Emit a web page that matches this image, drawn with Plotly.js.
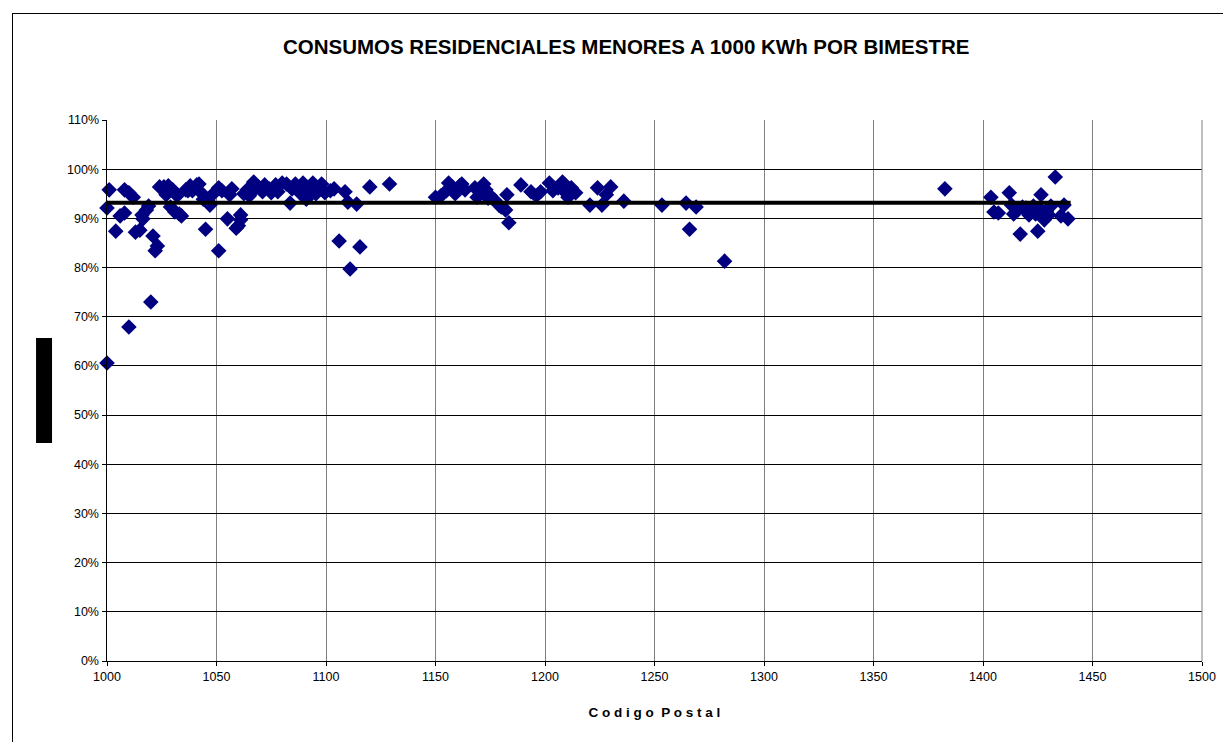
<!DOCTYPE html>
<html>
<head>
<meta charset="utf-8">
<script src="https://cdn.plot.ly/plotly-3.0.1.min.js"></script>
<style>
html,body{margin:0;padding:0;background:#fff;}
#frame{position:absolute;left:12px;top:13px;width:1400px;height:900px;border-left:1.5px solid #000;border-top:1.5px solid #000;}
#chart{position:absolute;left:0;top:0;width:1223px;height:742px;}
</style>
</head>
<body>
<div id="frame"></div>
<div id="chart"></div>
<script>
// Código postal (x) y porcentaje de consumos < 1000 KWh (y)
const codigoPostal = [
 1000,1001,1000,1004,1006,1008,1008,1010,1010,1012,1013,1015,1016,1016.4,1018,1019,1020,1021,1022,1023,
 1024,1026,1027,1028,1029,1030,1031,1032,1033,1034,1036,1037,1038,1039,1041,1042,1043,1044,1045,1046,
 1047,1049,1051,1051,1052.5,1055,1056,1057,1059,1060,1061,1061,1062.5,1064,1065,1067,1068,1069,1071,1072,
 1074,1075,1077,1078,1080,1082,1083.6,1084.5,1086,1088,1089.5,1091,1093,1094,1095.4,1097,1098,1099.5,1102,1103.7,
 1106,1108.7,1110,1111,1114,1115.5,1120,1129,
 1150,1152.5,1155,1156,1157.5,1159,1161,1162,1163.5,1168,1169,1171,1172,1173,1174,1175,1177,1179,1180,1182,
 1183.5,1182.6,1189,1193.6,1196,1198,1202,1203.6,1206,1208,1209,1210.5,1212,1214,1220.5,1224,1226,1228,1230,1236,
 1253.4,1264.4,1266,1269,1282,1382.6,
 1403.6,1405,1407,1412,1413,1414,1416,1417,1418,1419.6,1421,1423,1424,1425,1426,1426.5,1428,1429,1430,1431,
 1433,1435.6,1437,1438.8
];
const porcentaje = [
 0.921,0.958,0.606,0.874,0.905,0.958,0.911,0.952,0.679,0.943,0.872,0.876,0.907,0.899,0.917,0.925,0.730,0.864,0.834,0.844,
 0.964,0.964,0.948,0.966,0.923,0.958,0.913,0.946,0.909,0.905,0.958,0.956,0.966,0.956,0.968,0.970,0.952,0.939,0.878,0.937,
 0.927,0.952,0.962,0.834,0.956,0.899,0.948,0.960,0.880,0.885,0.907,0.897,0.950,0.958,0.946,0.974,0.962,0.964,0.954,0.968,
 0.960,0.952,0.968,0.954,0.972,0.970,0.931,0.960,0.970,0.952,0.972,0.939,0.958,0.972,0.950,0.960,0.970,0.952,0.956,0.960,
 0.854,0.954,0.933,0.797,0.929,0.842,0.964,0.970,
 0.943,0.946,0.956,0.972,0.964,0.950,0.966,0.970,0.958,0.962,0.943,0.956,0.970,0.958,0.941,0.946,0.937,0.927,0.923,0.917,
 0.891,0.948,0.968,0.954,0.946,0.954,0.972,0.956,0.962,0.974,0.954,0.943,0.962,0.952,0.927,0.962,0.927,0.948,0.964,0.935,
 0.927,0.931,0.878,0.923,0.813,0.960,
 0.943,0.913,0.911,0.952,0.927,0.909,0.917,0.868,0.923,0.921,0.907,0.925,0.909,0.874,0.919,0.948,0.897,0.915,0.907,0.925,
 0.984,0.905,0.927,0.899
];
// Línea del promedio
const promedioX = [1000, 1440];
const promedioY = [0.932, 0.932];

const xTicks = [1000,1050,1100,1150,1200,1250,1300,1350,1400,1450,1500];
const yTicks = [0,0.1,0.2,0.3,0.4,0.5,0.6,0.7,0.8,0.9,1.0,1.1];

const traces = [
  {x: codigoPostal, y: porcentaje, type:'scatter', mode:'markers', cliponaxis:false,
   marker:{symbol:'diamond', size:12, color:'#000080', line:{width:0}}, hoverinfo:'x+y'},
  {x: promedioX, y: promedioY, type:'scatter', mode:'lines', cliponaxis:false,
   line:{color:'#000', width:4}, hoverinfo:'skip'}
];

const layout = {
  width:1223, height:742,
  margin:{l:107, r:21, t:120, b:81},
  paper_bgcolor:'rgba(0,0,0,0)', plot_bgcolor:'#fff',
  showlegend:false,
  font:{family:'Liberation Sans, Arial, sans-serif', color:'#000', size:12},
  title:{text:'<b>CONSUMOS RESIDENCIALES MENORES A 1000 KWh POR BIMESTRE</b>',
         font:{size:20.5, color:'#000', family:'Liberation Sans, Arial, sans-serif'},
         x:0.512, xref:'container', xanchor:'center', y:0.937, yref:'container', yanchor:'middle'},
  xaxis:{range:[1000,1500], tickvals:xTicks, ticktext:xTicks.map(String),
         showgrid:true, gridcolor:'#808080', gridwidth:1, zeroline:false,
         showline:true, linecolor:'#000', linewidth:1, mirror:false,
         ticks:'outside', ticklen:4, tickcolor:'#000',
         tickfont:{size:12.5, color:'#000'},
         title:{text:'<b>C o d i g o  P o s t a l</b>', font:{size:13.5, color:'#000'}, standoff:24}},
  yaxis:{range:[0,1.1], tickvals:yTicks, tickformat:'.0%',
         showgrid:true, gridcolor:'#000', gridwidth:1, zeroline:false,
         showline:true, linecolor:'#000', linewidth:1.5,
         ticks:'outside', ticklen:4, tickcolor:'#000',
         tickfont:{size:12.5, color:'#000'}},
  shapes:[
    {type:'line', xref:'paper', yref:'paper', x0:1, x1:1, y0:0, y1:1, line:{color:'#808080', width:1}},
    {type:'rect', xref:'paper', yref:'paper', x0:-0.0648, x1:-0.0502, y0:0.403, y1:0.597,
     fillcolor:'#000', line:{width:0}}
  ]
};

Plotly.newPlot('chart', traces, layout, {displayModeBar:false, staticPlot:true});
</script>
</body>
</html>
